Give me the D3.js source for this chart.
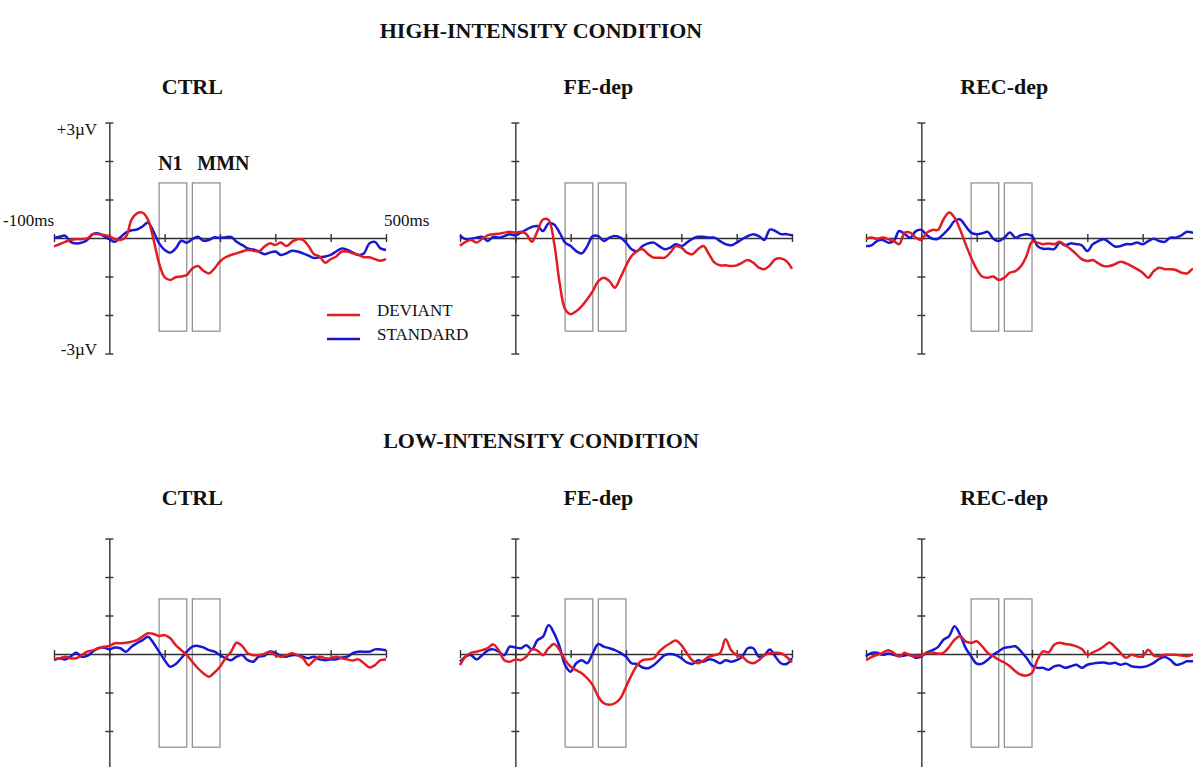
<!DOCTYPE html>
<html lang="en">
<head>
<meta charset="UTF-8">
<title>ERP waveforms - high and low intensity</title>
<script src="https://d3js.org/d3.v7.min.js"></script>
<style>
  body { margin: 0; background: #fff; }
  svg text { font-family: "Liberation Serif", "Times New Roman", serif; fill: #111; }
  .cond { font-size: 22px; font-weight: bold; }
  .group { font-size: 22px; font-weight: bold; }
  .win { font-size: 20px; font-weight: bold; }
  .lbl { font-size: 17px; }
  .axis path, .axis line { stroke: #333; stroke-width: 1.4px; }
  .box { fill: none; stroke: #8a8a8a; stroke-width: 1.2px; }
  .wave { fill: none; stroke-width: 2.5px; stroke-linejoin: round; }
</style>
</head>
<body>
<svg width="1193" height="767"></svg>
<script>
// sample times (ms), every 10 ms from -100 to 500
const times = d3.range(-100, 501, 10);

const conditions = ["HIGH-INTENSITY CONDITION", "LOW-INTENSITY CONDITION"];
const groups = ["CTRL", "FE-dep", "REC-dep"];
const xTicks = [-100, 0, 100, 200, 300, 400, 500];
const yTicks = [-3, -2, -1, 0, 1, 2, 3];
const windows = [[90, 140], [150, 200]];   // N1, MMN windows (ms)
const windowRange = [1.43, -2.42];         // µV
const legendNames = ["DEVIANT", "STANDARD"];

// high intensity, deviant / standard (µV)
const hiCtrlDev = [-0.22,-0.16,-0.1,-0.05,-0.03,-0.03,-0.01,0.1,0.1,0.08,0.05,-0.03,-0.05,0.03,0.47,0.64,0.66,0.47,-0.05,-0.66,-1.02,-1.09,-1.02,-1.0,-0.96,-0.79,-0.73,-0.85,-0.92,-0.79,-0.61,-0.5,-0.44,-0.4,-0.35,-0.31,-0.33,-0.35,-0.23,-0.14,-0.18,-0.12,-0.21,-0.1,-0.03,-0.05,-0.21,-0.42,-0.48,-0.64,-0.55,-0.48,-0.35,-0.35,-0.4,-0.44,-0.5,-0.5,-0.55,-0.59,-0.55];
const hiCtrlStd = [0,0.03,0.06,-0.1,-0.14,-0.12,-0.05,0.1,0.12,0.05,-0.03,-0.1,0.02,0.14,0.2,0.22,0.3,0.4,0.16,-0.14,-0.31,-0.38,-0.27,-0.07,-0.12,-0.03,0.03,-0.07,-0.05,0.02,0,0.02,0.03,-0.1,-0.18,-0.27,-0.3,-0.35,-0.42,-0.38,-0.35,-0.44,-0.4,-0.33,-0.35,-0.4,-0.46,-0.52,-0.5,-0.48,-0.44,-0.35,-0.27,-0.31,-0.38,-0.44,-0.4,-0.14,-0.1,-0.27,-0.31];
const hiFeDev = [-0.2,-0.1,-0.05,-0.12,-0.02,0.07,0.1,0.11,0.14,0.16,0.14,0.16,0.1,-0.1,0.18,0.48,0.47,-0.12,-1.16,-1.85,-1.98,-1.9,-1.77,-1.59,-1.38,-1.12,-1.03,-1.12,-1.29,-1.03,-0.72,-0.47,-0.34,-0.29,-0.42,-0.51,-0.51,-0.51,-0.38,-0.21,-0.25,-0.38,-0.42,-0.29,-0.21,-0.42,-0.64,-0.71,-0.71,-0.73,-0.71,-0.64,-0.57,-0.64,-0.77,-0.81,-0.71,-0.55,-0.53,-0.6,-0.8];
const hiFeStd = [0.07,-0.03,-0.02,0.01,0.03,-0.08,0.03,0.01,0.05,0.1,0.07,0.14,0.22,0.29,0.31,0.18,0.38,0.35,0.14,-0.12,-0.21,-0.34,-0.4,-0.21,0.05,0.05,-0.08,0.01,0.05,0.01,-0.12,-0.29,-0.34,-0.21,-0.14,-0.12,-0.21,-0.29,-0.25,-0.16,-0.21,-0.12,-0.02,0.03,0.03,0.01,0.01,-0.08,-0.16,-0.19,-0.12,-0.03,0.05,0.1,0.05,-0.05,0.22,0.18,0.1,0.1,0.07];
const hiRecDev = [-0.02,0.01,-0.02,0.01,-0.03,-0.08,-0.16,0.14,0.14,0.01,-0.05,0.14,0.21,0.21,0.48,0.66,0.53,0.22,-0.16,-0.51,-0.81,-1.0,-1.03,-1.0,-1.09,-1.03,-0.9,-0.86,-0.73,-0.47,-0.1,-0.12,-0.16,-0.14,-0.16,-0.1,-0.19,-0.29,-0.42,-0.55,-0.6,-0.57,-0.66,-0.73,-0.73,-0.68,-0.62,-0.66,-0.73,-0.81,-0.9,-1.03,-0.86,-0.77,-0.81,-0.81,-0.83,-0.9,-0.92,-0.81,-0.8];
const hiRecStd = [-0.21,-0.19,-0.08,-0.05,-0.12,-0.08,0.18,0.1,0.01,0.18,0.21,0.07,-0.02,-0.02,0.1,0.25,0.44,0.48,0.31,0.14,0.1,0.12,0.16,-0.02,-0.08,0.01,0.14,0.01,0.07,0.1,0.05,-0.21,-0.28,-0.28,-0.29,-0.12,-0.19,-0.14,-0.16,-0.19,-0.34,-0.16,-0.08,-0.03,-0.12,-0.22,-0.21,-0.16,-0.16,-0.12,-0.16,-0.08,-0.02,-0.08,-0.1,0.01,0.01,0.07,0.16,0.14,0.1];

// low intensity, deviant / standard (µV)
const loCtrlDev = [-0.14,-0.11,-0.07,-0.11,-0.11,-0.03,0.06,0.09,0.15,0.19,0.21,0.28,0.28,0.29,0.32,0.36,0.45,0.54,0.52,0.47,0.49,0.41,0.23,0.1,-0.03,-0.2,-0.37,-0.5,-0.59,-0.48,-0.33,-0.11,0.06,0.29,0.21,0.02,-0.03,-0.03,0,0.06,-0.03,-0.07,-0.03,0.02,-0.03,-0.11,-0.29,-0.16,-0.07,-0.11,-0.11,-0.07,-0.11,-0.14,-0.17,-0.14,-0.24,-0.35,-0.29,-0.16,-0.14];
const loCtrlStd = [-0.16,-0.11,-0.14,-0.07,0.03,-0.07,-0.05,0.06,0.15,0.17,0.12,0.17,0.15,0.06,0.19,0.28,0.36,0.45,0.28,0.06,-0.16,-0.33,-0.26,-0.11,0.06,0.19,0.21,0.17,0.1,0.06,-0.03,-0.11,-0.16,-0.07,-0.03,-0.16,-0.2,-0.07,-0.05,0.06,0.03,-0.05,-0.07,-0.03,-0.03,-0.07,-0.11,-0.07,-0.14,-0.16,-0.14,-0.14,-0.09,-0.07,0.02,0.06,0.06,0.06,0.12,0.12,0.1];
const loFeDev = [-0.29,-0.07,0.03,0.06,0.1,0.15,0.25,0.1,-0.16,-0.2,-0.14,-0.16,-0.07,0.12,0.09,-0.03,0.15,0.26,0.1,-0.16,-0.33,-0.42,-0.5,-0.63,-0.81,-1.11,-1.28,-1.32,-1.28,-1.15,-0.85,-0.55,-0.29,-0.16,-0.14,-0.11,0.06,0.19,0.28,0.35,0.23,0.02,-0.17,-0.24,-0.17,-0.07,-0.03,0.02,0.38,0.1,-0.03,-0.07,-0.2,-0.24,-0.16,-0.03,0.02,0.03,0.02,-0.07,-0.22];
const loFeStd = [-0.2,-0.07,-0.03,-0.14,-0.03,0.09,0.12,0.06,-0.03,0.19,0.17,0.15,0.23,0.12,0.36,0.45,0.75,0.54,0.19,-0.29,-0.46,-0.24,-0.16,-0.24,0.02,0.26,0.19,0.15,0.1,0.03,-0.07,-0.24,-0.26,-0.35,-0.37,-0.29,-0.16,-0.03,0,-0.03,-0.11,-0.22,-0.26,-0.16,-0.2,-0.14,-0.17,-0.24,-0.16,-0.2,-0.16,-0.07,0.15,0.15,-0.07,-0.03,0.12,-0.07,-0.24,-0.26,-0.11];
const loRecDev = [-0.16,-0.08,-0.02,0.03,0.1,0.03,-0.06,0.03,-0.04,-0.06,-0.04,0.03,0.04,0.01,0.03,0.18,0.37,0.46,0.33,0.29,0.33,0.2,0.03,-0.06,-0.15,-0.22,-0.32,-0.45,-0.54,-0.56,-0.49,-0.15,0.07,0.04,0.24,0.29,0.26,0.24,0.2,0.13,-0.02,0.04,0.11,0.2,0.3,0.18,0.03,-0.1,-0.02,-0.06,-0.06,0.11,-0.04,-0.06,-0.02,-0.02,-0.02,-0.04,-0.06,-0.02,-0.02];
const loRecStd = [-0.06,0.03,0.03,-0.02,0.01,-0.02,-0.06,-0.04,-0.02,-0.1,-0.06,0.04,0.1,0.18,0.37,0.46,0.72,0.5,0.16,-0.06,-0.25,-0.25,-0.15,-0.02,0.07,0.16,0.18,0.2,0.07,-0.1,-0.3,-0.36,-0.36,-0.41,-0.32,-0.3,-0.36,-0.32,-0.28,-0.36,-0.28,-0.25,-0.23,-0.22,-0.25,-0.23,-0.28,-0.25,-0.32,-0.34,-0.34,-0.3,-0.23,-0.13,-0.08,-0.15,-0.28,-0.25,-0.19,-0.19,-0.17];

const waves = [
  [[hiCtrlDev, hiCtrlStd], [hiFeDev, hiFeStd], [hiRecDev, hiRecStd]],
  [[loCtrlDev, loCtrlStd], [loFeDev, loFeStd], [loRecDev, loRecStd]]
];
const colors = ["#e31b23", "#1717d4"];

const svg = d3.select("svg");

// layout
const panelLeft = [54, 460, 866];   // x of -100 ms in each column
const panelWidth = 332;
const rowZero = [238, 654];         // y of 0 µV in each row
const uvPx = 38.5;
const condY = [38, 448];
const groupY = [94, 505];

const y = rowZero.map(z => d3.scaleLinear().domain([-3, 3]).range([z + 3 * uvPx, z - 3 * uvPx]));

conditions.forEach((c, r) => {
  svg.append("text").attr("class", "cond")
    .attr("x", 541).attr("y", condY[r])
    .attr("text-anchor", "middle").text(c);
});

const line = d3.line().curve(d3.curveCatmullRom.alpha(0.5));

waves.forEach((row, r) => {
  row.forEach((pair, c) => {
    const x = d3.scaleLinear().domain([-100, 500]).range([panelLeft[c], panelLeft[c] + panelWidth]);
    const yy = y[r];
    const g = svg.append("g");

    g.append("text").attr("class", "group")
      .attr("x", x(150)).attr("y", groupY[r])
      .attr("text-anchor", "middle").text(groups[c]);

    // analysis windows
    g.selectAll("rect.box").data(windows).join("rect")
      .attr("class", "box")
      .attr("x", d => x(d[0])).attr("width", d => x(d[1]) - x(d[0]))
      .attr("y", yy(windowRange[0])).attr("height", yy(windowRange[1]) - yy(windowRange[0]));

    // x axis with ticks crossing the line
    g.append("g").attr("class", "axis")
      .attr("transform", `translate(0,${yy(0)})`)
      .call(d3.axisBottom(x).tickValues(xTicks).tickSize(4).tickSizeOuter(0).tickFormat(""));
    g.append("g").attr("class", "axis")
      .attr("transform", `translate(0,${yy(0)})`)
      .call(d3.axisTop(x).tickValues(xTicks).tickSize(4).tickSizeOuter(0).tickFormat(""))
      .select(".domain").remove();

    // y axis at 0 ms
    g.append("g").attr("class", "axis")
      .attr("transform", `translate(${x(0)},0)`)
      .call(d3.axisLeft(yy).tickValues(yTicks).tickSize(4).tickSizeOuter(0).tickFormat(""));
    g.append("g").attr("class", "axis")
      .attr("transform", `translate(${x(0)},0)`)
      .call(d3.axisRight(yy).tickValues(yTicks).tickSize(4).tickSizeOuter(0).tickFormat(""))
      .select(".domain").remove();
    g.selectAll(".axis text").remove();

    // waveforms: standard first, deviant on top
    [1, 0].forEach(k => {
      g.append("path").attr("class", "wave")
        .attr("stroke", colors[k])
        .attr("d", line(times.map((t, i) => [x(t), yy(pair[k][i])])));
    });

    if (r === 0 && c === 0) {
      g.append("text").attr("class", "lbl").attr("x", 97).attr("y", yy(3) + 12)
        .attr("text-anchor", "end").text("+3µV");
      g.append("text").attr("class", "lbl").attr("x", 97).attr("y", yy(-3) + 1)
        .attr("text-anchor", "end").text("-3µV");
      g.append("text").attr("class", "lbl").attr("x", 54).attr("y", yy(0) - 12)
        .attr("text-anchor", "end").text("-100ms");
      g.append("text").attr("class", "lbl").attr("x", x(500) - 2).attr("y", yy(0) - 12)
        .text("500ms");
      g.append("text").attr("class", "win").attr("x", x(90) - 1).attr("y", yy(windowRange[0]) - 13)
        .text("N1");
      g.append("text").attr("class", "win").attr("x", x(150) + 5).attr("y", yy(windowRange[0]) - 13)
        .text("MMN");

      // legend
      legendNames.forEach((name, k) => {
        const ly = 315 + k * 24;
        g.append("line").attr("x1", 327).attr("x2", 360).attr("y1", ly).attr("y2", ly)
          .attr("stroke", colors[k]).attr("stroke-width", 2.5);
        g.append("text").attr("class", "lbl").attr("x", 377).attr("y", ly + 1)
          .text(name);
      });
    }
  });
});
</script>
</body>
</html>
